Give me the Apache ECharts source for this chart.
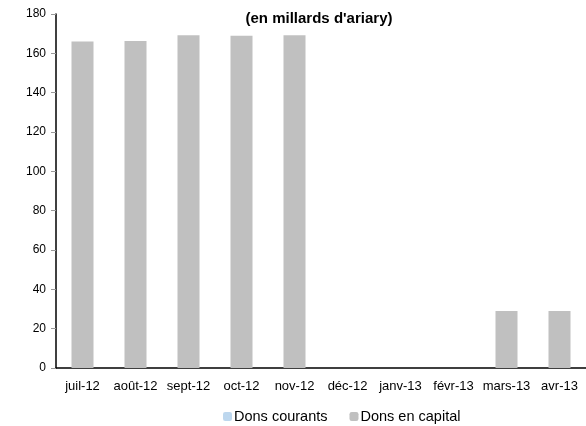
<!DOCTYPE html>
<html>
<head>
<meta charset="utf-8">
<script src="https://cdn.jsdelivr.net/npm/echarts@6/dist/echarts.min.js"></script>
<style>
  html, body { margin: 0; padding: 0; background: #fff; }
  #chart { width: 586px; height: 426px; }
</style>
</head>
<body>
<div id="chart"></div>
<script>
const months = ['juil-12', 'août-12', 'sept-12', 'oct-12', 'nov-12', 'déc-12', 'janv-13', 'févr-13', 'mars-13', 'avr-13']
const donsCourants = [0, 0, 0, 0, 0, 0, 0, 0, 0, 0]
const donsCapital = [166, 166.3, 169.2, 169, 169.2, 0, 0, 0, 29, 29]
const yTicks = [0, 180, 20]

const chart = echarts.init(document.getElementById('chart'))
chart.setOption({
  animation: false,
  textStyle: { fontFamily: 'Liberation Sans, Arial, sans-serif' },
  title: {
    text: "(en millards d'ariary)",
    left: 314,
    top: 6,
    textAlign: 'center',
    textStyle: { fontSize: 15, fontWeight: 'bold', color: '#000' }
  },
  grid: { left: 56, right: -3, top: 14, bottom: 58 },
  legend: {
    top: 404,
    left: 218,
    itemWidth: 9,
    itemHeight: 9,
    itemGap: 22,
    textStyle: { fontSize: 14.5, color: '#000', padding: [0, 0, 0, -3] },
    data: ['Dons courants', 'Dons en capital']
  },
  xAxis: {
    type: 'category',
    data: months,
    axisLine: { lineStyle: { color: '#000', width: 1.5 } },
    axisTick: { length: 5, lineStyle: { color: '#999' } },
    axisLabel: { fontSize: 13, color: '#000', margin: 12, interval: 0 }
  },
  yAxis: {
    type: 'value',
    min: yTicks[0],
    max: yTicks[1],
    interval: yTicks[2],
    splitLine: { show: false },
    axisLine: { show: true, lineStyle: { color: '#000', width: 1.5 } },
    axisTick: { show: true, length: 5, lineStyle: { color: '#999' } },
    axisLabel: { fontSize: 12, color: '#000', margin: 10 }
  },
  series: [{
    name: 'Dons courants',
    type: 'bar',
    stack: 'dons',
    barWidth: 22,
    data: donsCourants,
    itemStyle: { color: '#bdd7ee' }
  }, {
    name: 'Dons en capital',
    type: 'bar',
    stack: 'dons',
    barWidth: 22,
    data: donsCapital,
    itemStyle: { color: '#c0c0c0' }
  }]
})
</script>
</body>
</html>
